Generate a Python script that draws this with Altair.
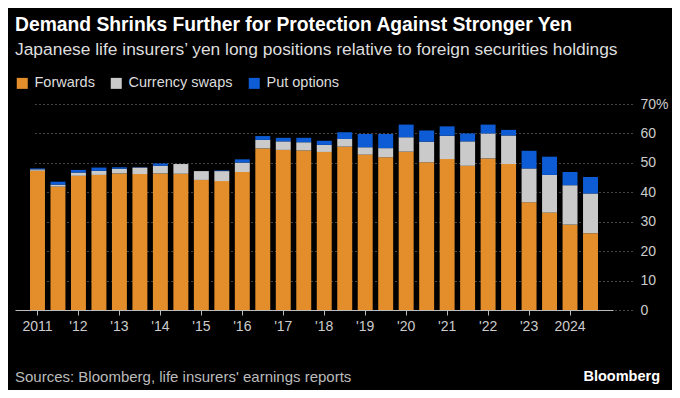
import altair as alt
import pandas as pd

periods = [f"{y} H{h}" for y in range(2011, 2025) for h in (1, 2)]
forwards = [47.3, 41.9, 45.6, 45.9, 46.4, 46.2, 46.4, 46.3, 44.2, 43.8, 46.9, 54.9, 54.4, 54.2,
            53.7, 55.5, 52.8, 51.9, 53.8, 50.2, 51.3, 49.0, 51.5, 49.6, 36.6, 33.1, 29.0, 26.1]
swaps = [0.5, 0.7, 1.1, 1.4, 1.6, 2.2, 2.6, 3.3, 3.0, 3.4, 3.2, 2.9, 2.9, 2.8,
         2.4, 2.6, 2.5, 3.1, 4.9, 7.0, 7.9, 8.3, 8.5, 9.7, 11.5, 12.8, 13.4, 13.5]
puts = [0.3, 1.0, 0.9, 1.1, 0.5, 0.1, 0.8, 0.0, 0.0, 0.2, 1.1, 1.3, 1.2, 1.5,
        1.4, 2.3, 4.5, 4.8, 4.3, 3.8, 3.2, 2.7, 3.0, 1.9, 6.0, 6.2, 4.5, 5.6]
series = ["Forwards", "Currency swaps", "Put options"]
colors = ["#E38E2B", "#CACACA", "#0D5CD6"]
tick_periods = [p for p in periods if p.endswith("H1")]
tick_labels = ["2011", "'12", "'13", "'14", "'15", "'16", "'17", "'18", "'19", "'20",
               "'21", "'22", "'23", "2024"]
y_ticks = [0, 10, 20, 30, 40, 50, 60, 70]

title = "Demand Shrinks Further for Protection Against Stronger Yen"
subtitle = "Japanese life insurers\u2019 yen long positions relative to foreign securities holdings"
source = "Sources: Bloomberg, life insurers' earnings reports"
brand = "Bloomberg"

rows = []
for i, p in enumerate(periods):
    for k, (name, vals) in enumerate(zip(series, [forwards, swaps, puts])):
        rows.append({"period": p, "series": name, "value": vals[i], "order": k})
df = pd.DataFrame(rows)

label_expr = "''"
for p, l in zip(reversed(tick_periods), reversed(tick_labels)):
    label_expr = f"datum.value == '{p}' ? \"{l}\" : ({label_expr})"

W, H = 617, 206

bars = alt.Chart(df).mark_bar().encode(
    x=alt.X("period:N", sort=periods,
            scale=alt.Scale(paddingInner=0.27, paddingOuter=0.733, range=[0, 598]),
            axis=alt.Axis(values=tick_periods, labelExpr=label_expr, title=None,
                          labelAngle=0, domainColor="#bbbbbb", tickColor="#bbbbbb",
                          tickSize=5, labelPadding=4, labelColor="#cccccc",
                          labelFontSize=14, labelFont="Liberation Sans", grid=False)),
    y=alt.Y("value:Q", stack="zero",
            scale=alt.Scale(domain=[0, 70], nice=False),
            axis=alt.Axis(orient="right", values=y_ticks, title=None,
                          labelExpr="datum.value == 70 ? '70%' : datum.value",
                          grid=True, gridDash=[1, 3], gridColor="#8a8a8a",
                          domain=False, ticks=False, labelPadding=8,
                          labelColor="#cccccc", labelFontSize=14,
                          labelFont="Liberation Sans", labelAlign="left")),
    color=alt.Color("series:N", scale=alt.Scale(domain=series, range=colors),
                    legend=alt.Legend(orient="none", legendX=0, legendY=-28,
                                      direction="horizontal", title=None,
                                      symbolType="square", symbolSize=121,
                                      symbolStrokeWidth=0, symbolOpacity=1,
                                      labelColor="#dddddd", labelFontSize=14.5,
                                      labelFont="Liberation Sans", columnPadding=14,
                                      labelOffset=5)),
    order=alt.Order("order:Q", sort="ascending"),
)

src = alt.Chart(pd.DataFrame({"t": [source]})).mark_text(
    align="left", baseline="middle", color="#bbbbbb", fontSize=15, font="Liberation Sans"
).encode(x=alt.value(0), y=alt.value(H + 67), text="t:N")

brd = alt.Chart(pd.DataFrame({"t": [brand]})).mark_text(
    align="right", baseline="middle", color="#ffffff", fontSize=14.5, fontWeight="bold",
    font="Liberation Sans"
).encode(x=alt.value(645), y=alt.value(H + 67), text="t:N")

chart = alt.layer(bars, src, brd).properties(
    width=W, height=H,
    title=alt.TitleParams(text=title, subtitle=subtitle, anchor="start", frame="group",
                          color="#ffffff", fontSize=19.3, fontWeight="bold",
                          font="Liberation Sans", subtitleFont="Liberation Sans",
                          subtitleFontSize=17.4, subtitleColor="#dddddd",
                          subtitlePadding=5, offset=18),
    autosize=alt.AutoSizeParams(type="none"),
    padding={"left": 7, "top": 96, "right": 40, "bottom": 80},
    background="#000000",
).configure_view(stroke=None)

chart.save("out.html", embed_options={"renderer": "svg", "actions": False})
